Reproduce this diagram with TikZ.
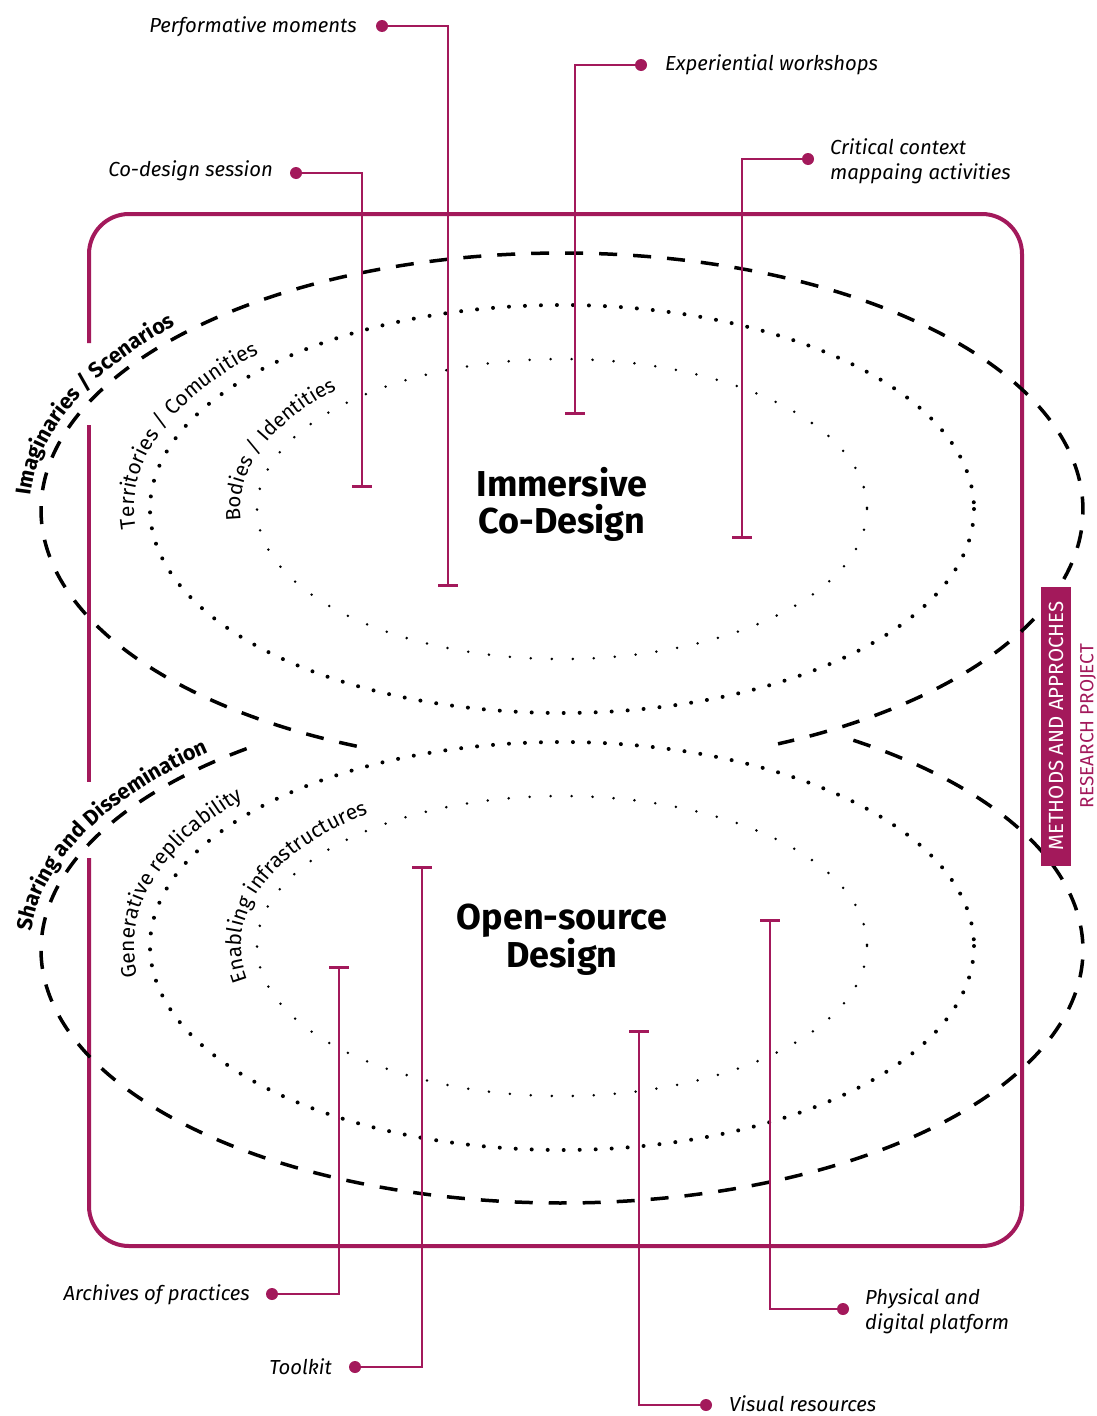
\documentclass[tikz,border=0pt]{standalone}
\usepackage{fontspec}
\setmainfont{Fira Sans}
\usetikzlibrary{decorations.text}
\definecolor{mag}{HTML}{A3195B}
\begin{document}
\begin{tikzpicture}[x=1pt,y=-1pt,
  frame/.style={draw=mag,line width=4pt},
  conn/.style={draw=mag,line width=1.3pt},
  tickline/.style={draw=mag,line width=3pt},
  dot/.style={circle,fill=mag,inner sep=0pt,minimum size=12pt},
  lab/.style={font=\itshape\fontsize{20.3}{25}\selectfont,inner sep=0pt},
  dashedline/.style={draw=black,line width=3.5pt,dash pattern=on 18pt off 16pt},
  dotsout/.style={draw=black,line width=4pt,line cap=round,dash pattern=on 0pt off 16pt},
  dotsin/.style={draw=black,line width=2.8pt,line cap=round,dash pattern=on 0pt off 21pt},
  titletext/.style={font=\bfseries\fontsize{36}{37}\selectfont,align=center,inner sep=0pt},
]
\fill[white] (0,0) rectangle (1096,1416);
\useasboundingbox (0,0) rectangle (1096,1416);

% frame
\draw[frame,rounded corners=40pt] (89,343) -- (89,214) -- (1022,214) -- (1022,1246) -- (89,1246) -- (89,858);
\draw[frame] (89,425) -- (89,782);

% dotted ellipses
\draw[dotsout] plot[domain=0:360,samples=361,variable=\t] ({562+412*cos(\t)},{509+204*sin(\t)});
\draw[dotsin] plot[domain=0:360,samples=361,variable=\t] ({562+305*cos(\t)},{509+150*sin(\t)});
\draw[dotsout] plot[domain=0:360,samples=361,variable=\t] ({562+412*cos(\t)},{946+204*sin(\t)});
\draw[dotsin] plot[domain=0:360,samples=361,variable=\t] ({562+305*cos(\t)},{946+150*sin(\t)});

% dashed ellipses
\draw[dashedline] plot[domain=113.2:425.5,samples=300,variable=\t] ({562+521*cos(\t)},{510+257*sin(\t)});
\draw[dashedline] plot[domain=-56:233.6,samples=300,variable=\t] ({562+521*cos(\t)},{950+253*sin(\t)});

% arc texts
\path[decorate,decoration={text along path,text align=left,text={|\fontsize{21.5}{25}\selectfont\bfseries|Imaginaries / Scenarios}}]
  plot[domain=183:262,samples=120,variable=\t] ({562+532*cos(\t)},{510+268*sin(\t)});
\path[decorate,decoration={text along path,text align=left,text={|\fontsize{21}{25}\selectfont|Territories / Comunities}}]
  plot[domain=175:272,samples=120,variable=\t] ({562+428*cos(\t)},{509+220*sin(\t)});
\path[decorate,decoration={text along path,text align=left,text={|\fontsize{20.5}{24}\selectfont|Bodies / Identities}}]
  plot[domain=176:272,samples=120,variable=\t] ({562+322*cos(\t)},{509+167*sin(\t)});
\path[decorate,decoration={text along path,text align=left,text={|\fontsize{21.5}{25}\selectfont\bfseries|Sharing and Dissemination}}]
  plot[domain=184:268,samples=120,variable=\t] ({562+532*cos(\t)},{950+264*sin(\t)});
\path[decorate,decoration={text along path,text align=left,text={|\fontsize{21}{25}\selectfont|Generative replicability}}]
  plot[domain=172:272,samples=120,variable=\t] ({562+428*cos(\t)},{946+220*sin(\t)});
\path[decorate,decoration={text along path,text align=left,text={|\fontsize{21}{25}\selectfont|Enabling infrastructures}}]
  plot[domain=168:272,samples=120,variable=\t] ({562+321*cos(\t)},{946+166*sin(\t)});

% titles
\node[titletext] (imm) at (562,504) {Immersive\\Co-Design};
\node[titletext] (osd) at (562,940) {Open-source\\Design};

% top labels
\node[lab,anchor=mid east] (l1) at (357,30) {Performative moments};
\node[dot] (d1) at (382,26) {};
\coordinate (t1) at (448,585);
\draw[conn] (d1.center) -| (t1);
\draw[tickline] ([xshift=-10pt]t1) -- ([xshift=10pt]t1);

\node[lab,anchor=mid west] (l2) at (665,68) {Experiential workshops};
\node[dot] (d2) at (641,65) {};
\coordinate (t2) at (575,413);
\draw[conn] (d2.center) -| (t2);
\draw[tickline] ([xshift=-10pt]t2) -- ([xshift=10pt]t2);

\node[lab,anchor=mid east] (l3) at (273,174) {Co-design session};
\node[dot] (d3) at (296,173) {};
\coordinate (t3) at (362,486);
\draw[conn] (d3.center) -| (t3);
\draw[tickline] ([xshift=-10pt]t3) -- ([xshift=10pt]t3);

\node[lab,anchor=west,align=left] (l4) at (830,161) {Critical context\\mappaing activities};
\node[dot] (d4) at (808,159) {};
\coordinate (t4) at (742,537);
\draw[conn] (d4.center) -| (t4);
\draw[tickline] ([xshift=-10pt]t4) -- ([xshift=10pt]t4);

% bottom labels
\node[lab,anchor=mid east] (l5) at (250,1298) {Archives of practices};
\node[dot] (d5) at (272,1294) {};
\coordinate (t5) at (339,967);
\draw[conn] (d5.center) -| (t5);
\draw[tickline] ([xshift=-10pt]t5) -- ([xshift=10pt]t5);

\node[lab,anchor=mid east] (l6) at (332,1372) {Toolkit};
\node[dot] (d6) at (355,1367) {};
\coordinate (t6) at (422,867);
\draw[conn] (d6.center) -| (t6);
\draw[tickline] ([xshift=-10pt]t6) -- ([xshift=10pt]t6);

\node[lab,anchor=mid west] (l7) at (729,1409) {Visual resources};
\node[dot] (d7) at (706,1405) {};
\coordinate (t7) at (639,1031);
\draw[conn] (d7.center) -| (t7);
\draw[tickline] ([xshift=-10pt]t7) -- ([xshift=10pt]t7);

\node[lab,anchor=west,align=left] (l8) at (865,1311) {Physical and\\digital platform};
\node[dot] (d8) at (843,1309) {};
\coordinate (t8) at (770,920);
\draw[conn] (d8.center) -| (t8);
\draw[tickline] ([xshift=-10pt]t8) -- ([xshift=10pt]t8);

% right side box
\node[fill=mag,text=white,rotate=90,minimum width=279pt,minimum height=30pt,inner sep=0pt,
  font=\fontsize{20.5}{23}\selectfont] (box) at (1056,726) {METHODS AND APPROCHES};
\node[rotate=90,text=mag,inner sep=0pt,font=\fontsize{19}{22}\selectfont] (rp) at (1088,726) {RESEARCH PROJECT};
\end{tikzpicture}
\end{document}
